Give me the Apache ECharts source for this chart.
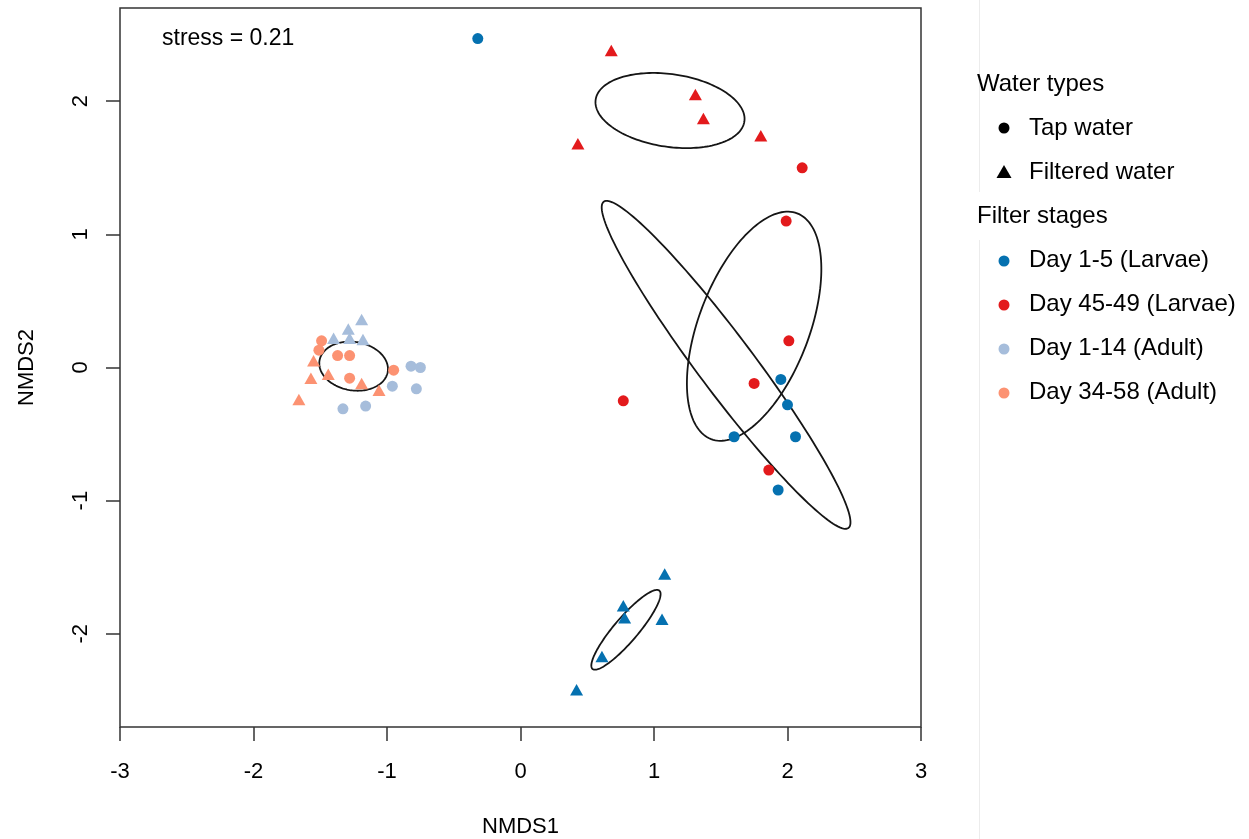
<!DOCTYPE html>
<html><head><meta charset="utf-8">
<script src="https://cdn.jsdelivr.net/npm/echarts@6/dist/echarts.min.js"></script>
<style>html,body{margin:0;padding:0;background:#fff}#c{width:1249px;height:839px}</style>
</head><body><div id="c"></div>
<script>
// ---------- data ----------
const xTicks = [-3, -2, -1, 0, 1, 2, 3];
const yTicks = [-2, -1, 0, 1, 2];
const xTitle = 'NMDS1';
const yTitle = 'NMDS2';
const stressLabel = 'stress = 0.21';
const waterTitle = 'Water types';
const waterTypes = ['Tap water', 'Filtered water'];
const stageTitle = 'Filter stages';
const stageLabels = ['Day 1-5 (Larvae)', 'Day 45-49 (Larvae)', 'Day 1-14 (Adult)', 'Day 34-58 (Adult)'];
const stageColors = ['#0571b0', '#e31a1c', '#a6bddb', '#fc9272'];

// Day 1-5 (Larvae)
const d1_5Tap = [[-0.32, 2.47], [1.95, -0.09], [2.00, -0.28], [1.60, -0.52], [2.06, -0.52], [1.93, -0.92]];
const d1_5Filtered = [[1.08, -1.55], [0.77, -1.79], [0.78, -1.88], [1.06, -1.89], [0.61, -2.17], [0.42, -2.42]];
// Day 45-49 (Larvae)
const d45_49Tap = [[2.11, 1.50], [1.99, 1.10], [2.01, 0.20], [1.75, -0.12], [0.77, -0.25], [1.86, -0.77]];
const d45_49Filtered = [[0.68, 2.38], [1.31, 2.05], [1.37, 1.87], [1.80, 1.74], [0.43, 1.68]];
// Day 1-14 (Adult)
const d1_14Tap = [[-0.82, 0.01], [-0.75, 0.00], [-0.96, -0.14], [-0.78, -0.16], [-1.16, -0.29], [-1.33, -0.31]];
const d1_14Filtered = [[-1.19, 0.36], [-1.29, 0.29], [-1.40, 0.22], [-1.18, 0.21], [-1.28, 0.22]];
// Day 34-58 (Adult)
const d34_58Tap = [[-1.49, 0.20], [-1.51, 0.13], [-1.37, 0.09], [-1.28, 0.09], [-1.28, -0.08], [-0.95, -0.02]];
const d34_58Filtered = [[-1.55, 0.05], [-1.57, -0.08], [-1.44, -0.05], [-1.19, -0.12], [-1.06, -0.17], [-1.66, -0.24]];

// ellipses: [centre x, centre y, semi-major, semi-minor, angle (deg)]
const ellipses = [
  [1.12, 1.93, 0.563, 0.273, -8.4],
  [1.54, 0.02, 1.53, 0.21, -53.2],
  [1.75, 0.31, 0.907, 0.414, 69.2],
  [0.79, -1.97, 0.386, 0.09, 49.6],
  [-1.25, 0.01, 0.259, 0.182, -9.4]
];

// ---------- chart ----------
const FONT = "'Liberation Sans', Arial, Helvetica, sans-serif";
const chart = echarts.init(document.getElementById('c'), null, {renderer: 'canvas'});

const tapSets = [d1_5Tap, d45_49Tap, d1_14Tap, d34_58Tap];
const filtSets = [d1_5Filtered, d45_49Filtered, d1_14Filtered, d34_58Filtered];

function renderEllipse(params, api) {
  const cx = api.value(0), cy = api.value(1), a = api.value(2), b = api.value(3);
  const ang = api.value(4) * Math.PI / 180;
  const pts = [];
  const n = 160;
  for (let i = 0; i < n; i++) {
    const t = i / n * 2 * Math.PI;
    const ex = a * Math.cos(t), ey = b * Math.sin(t);
    pts.push(api.coord([cx + ex * Math.cos(ang) - ey * Math.sin(ang),
                        cy + ex * Math.sin(ang) + ey * Math.cos(ang)]));
  }
  return {type: 'polygon', shape: {points: pts},
          style: {fill: 'none', stroke: '#151515', lineWidth: 1.8}};
}

const series = [{
  type: 'custom', name: 'ellipses', data: ellipses, renderItem: renderEllipse,
  encode: {x: 0, y: 1}, z: 1, silent: true
}];
stageLabels.forEach((lab, i) => {
  series.push({type: 'scatter', name: lab + ' tap', data: tapSets[i], symbol: 'circle',
    symbolSize: 11, itemStyle: {color: stageColors[i], opacity: 1}, z: 3});
  series.push({type: 'scatter', name: lab + ' filtered', data: filtSets[i], symbol: 'triangle',
    symbolSize: [13, 11.5], itemStyle: {color: stageColors[i], opacity: 1}, z: 3});
});

// legend (drawn as graphic)
const g = [];
g.push({type: 'text', left: 162, top: 27, style: {text: stressLabel, font: '23px ' + FONT, fill: '#000'}});
g.push({type: 'line', shape: {x1: 979.5, y1: 0, x2: 979.5, y2: 192}, style: {stroke: '#ececec', lineWidth: 1}});
g.push({type: 'line', shape: {x1: 979.5, y1: 240, x2: 979.5, y2: 839}, style: {stroke: '#ececec', lineWidth: 1}});
function legendText(txt, x, y) {
  return {type: 'text', x: x, y: y, style: {text: txt, font: '24px ' + FONT, fill: '#000',
          textVerticalAlign: 'middle', verticalAlign: 'middle'}};
}
g.push(legendText(waterTitle, 977, 84));
g.push({type: 'circle', shape: {cx: 1004, cy: 128, r: 5.5}, style: {fill: '#000'}});
g.push(legendText(waterTypes[0], 1029, 128));
g.push({type: 'polygon', shape: {points: [[1004, 165], [996.5, 178], [1011.5, 178]]}, style: {fill: '#000'}});
g.push(legendText(waterTypes[1], 1029, 172));
g.push(legendText(stageTitle, 977, 216));
stageLabels.forEach((lab, i) => {
  const y = 260 + i * 44;
  g.push({type: 'circle', shape: {cx: 1004, cy: y + 1, r: 5.5}, style: {fill: stageColors[i]}});
  g.push(legendText(lab, 1029, y));
});

const axisLabelStyle = {fontSize: 22, color: '#000', fontFamily: FONT};
chart.setOption({
  backgroundColor: '#fff',
  animation: false,
  grid: {left: 120, right: 328, top: 8, bottom: 112, show: true, containLabel: false,
         outerBoundsMode: 'none',
         borderColor: '#333', borderWidth: 1.5, backgroundColor: 'transparent'},
  xAxis: {
    type: 'value', min: xTicks[0], max: xTicks[xTicks.length - 1], interval: 1,
    name: xTitle, nameLocation: 'middle', nameGap: 89,
    nameTextStyle: {fontSize: 22, color: '#000', fontFamily: FONT},
    axisLine: {show: false, onZero: false},
    axisTick: {show: true, length: 14, lineStyle: {color: '#333', width: 1.5}},
    axisLabel: Object.assign({margin: 34, showMinLabel: true, showMaxLabel: true}, axisLabelStyle),
    splitLine: {show: false}
  },
  yAxis: {
    type: 'value', min: -2.7, max: 2.7,
    name: yTitle, nameLocation: 'middle', nameGap: 82, nameRotate: 90,
    nameTextStyle: {fontSize: 22, color: '#000', fontFamily: FONT},
    axisLine: {show: false, onZero: false},
    axisTick: {show: true, length: 14, customValues: yTicks, lineStyle: {color: '#333', width: 1.5}},
    axisLabel: Object.assign({margin: 28, rotate: 90, customValues: yTicks}, axisLabelStyle),
    splitLine: {show: false}
  },
  graphic: g,
  series: series
});
</script>
</body></html>
